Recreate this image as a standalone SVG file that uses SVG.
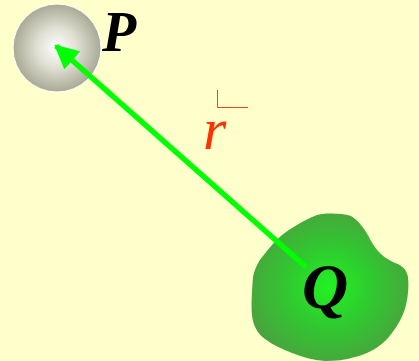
<svg xmlns="http://www.w3.org/2000/svg" width="419" height="361" viewBox="0 0 419 361">
<defs>
<radialGradient id="gP" cx="0.5" cy="0.5" r="0.5">
<stop offset="0" stop-color="#ffffff"/>
<stop offset="0.45" stop-color="#e0e0d4"/>
<stop offset="1" stop-color="#a9a996"/>
</radialGradient>
<radialGradient id="gQ" cx="0.5" cy="0.5" r="0.55">
<stop offset="0" stop-color="#22f222"/>
<stop offset="0.5" stop-color="#30c830"/>
<stop offset="1" stop-color="#4aa23e"/>
</radialGradient>
<marker id="arr" viewBox="0 0 10 10" refX="9" refY="5" markerWidth="4.4" markerHeight="4.4" orient="auto" markerUnits="strokeWidth">
<path d="M0,0 L10,5 L0,10 z" fill="#00ff00"/>
</marker>
<style>
.lbl{font-family:"Liberation Serif","Times New Roman",serif;font-style:italic;}
</style>
</defs>
<rect width="419" height="361" fill="#ffffcc"/>
<g id="P">
<circle cx="57" cy="48" r="44" fill="url(#gP)" stroke="#ffffff" stroke-width="1"/>
<text class="lbl" x="102" y="51" font-size="56" font-weight="bold" fill="#000">P</text>
</g>
<g id="Q">
<path d="M317,215 C327,213 340,213 351,216 C358,220 364,228 369,237 C374,247 380,256 393,262 C401,265 406,268 408,277 C409,288 408,296 406,305 C403,317 397,327 388,338 C380,347 368,354 355,357 C345,360 335,361 325,361 C313,360 302,357 292,353 C282,349 273,345 265,339 C257,333 253,325 252,315 C251,305 252,290 253,277 C255,268 258,262 263,256 C269,248 275,241 282,235 C290,229 300,222 317,215 Z" fill="url(#gQ)"/>
<text class="lbl" x="302" y="308" font-size="64" font-weight="bold" fill="#000">Q</text>
</g>
<g id="r-label">
<path d="M217.5,90 V107.5 H248" fill="none" stroke="#ee4422" stroke-width="1"/>
<text class="lbl" x="203" y="149" font-size="60" fill="#ff3300">r</text>
</g>
<g id="connectors">
<line x1="306" y1="267" x2="56" y2="46" stroke="#00ff00" stroke-width="5.5" marker-end="url(#arr)"/>
</g>
</svg>
